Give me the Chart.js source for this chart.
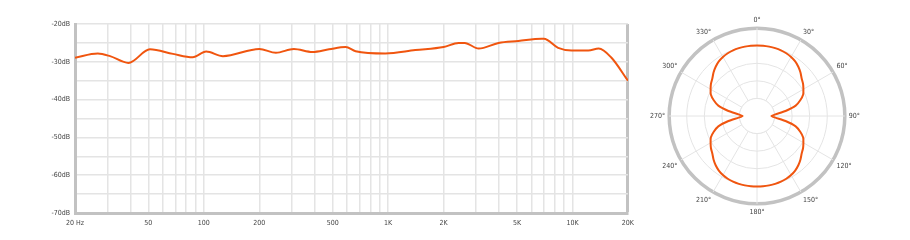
<!DOCTYPE html>
<html lang="en">
<head>
  <meta charset="UTF-8" />
  <title>Frequency response and polar pattern</title>
  <script src="https://cdn.jsdelivr.net/npm/chart.js"></script>
  <style>
    body {
      margin: 0;
      background: #ffffff;
    }
    #respBox {
      position: absolute;
      left: 0;
      top: 0;
      width: 640px;
      height: 240px;
    }
    #polarBox {
      position: absolute;
      left: 648px;
      top: 4px;
      width: 215px;
      height: 226px;
    }
  </style>
</head>
<body>
  <div id="respBox"><canvas id="respChart"></canvas></div>
  <div id="polarBox"><canvas id="polarChart"></canvas></div>

  <script>
    // frequency response (Hz / dB)
    const freqs = [20, 26.6, 31, 39, 51, 68, 87, 103, 127, 200, 246, 308, 388, 478, 588, 666, 966, 1404, 2000, 2412, 2600, 3100, 3972, 5088, 6800, 7000, 8360, 9900, 12200, 13880, 16200, 20000];
    const levels = [-28.9, -27.8, -28.5, -30.3, -26.7, -27.9, -28.8, -27.3, -28.5, -26.6, -27.6, -26.6, -27.4, -26.7, -26.1, -27.2, -27.8, -26.9, -26.1, -25.0, -25.0, -26.5, -25.0, -24.5, -23.9, -23.9, -26.3, -27.0, -27.0, -26.5, -28.8, -35.0];

    // vertical grid positions and the ones that carry a label
    const gridFreqs = [20, 30, 40, 50, 60, 70, 80, 90, 100, 200, 300, 400, 500, 600, 700, 800, 900, 1000, 2000, 3000, 4000, 5000, 6000, 7000, 8000, 9000, 10000, 20000];
    const labelFreqs = [20, 50, 100, 200, 500, 1000, 2000, 5000, 10000, 20000];
    const labelTexts = ["20 Hz", "50", "100", "200", "500", "1K", "2K", "5K", "10K", "20K"];

    // polar pattern, one value every 5 degrees (dB)
    const polarAngles = [];
    for (let a = 0; a < 360; a += 5) polarAngles.push(a);
    const polarLevels = [
      -4.9, -4.9, -4.95, -5.0, -5.1, -5.3, -5.6, -6.05, -6.7, -7.5, -8.4, -9.0, -9.75, -10.5, -11.9, -13.6, -16.75, -19.75,
      -20.9, -19.75, -16.75, -13.6, -11.9, -10.5, -9.75, -9.0, -8.4, -7.5, -6.7, -6.05, -5.6, -5.3, -5.1, -5.0, -4.95, -4.9,
      -4.9, -4.9, -4.95, -5.0, -5.1, -5.3, -5.6, -6.05, -6.7, -7.5, -8.4, -9.0, -9.75, -10.5, -11.9, -13.6, -16.75, -19.75,
      -20.9, -19.75, -16.75, -13.6, -11.9, -10.5, -9.75, -9.0, -8.4, -7.5, -6.7, -6.05, -5.6, -5.3, -5.1, -5.0, -4.95, -4.9
    ];

    const LINE = "#f0550f";
    const GRID = "#e4e4e4";
    const FRAME = "#c2c2c2";
    const TXT = "#444444";
    const FONT = "'Liberation Sans Narrow', 'DejaVu Sans Condensed', sans-serif";

    new Chart(document.getElementById("respChart"), {
      type: "line",
      data: {
        datasets: [{
          data: freqs.map((f, i) => ({ x: f, y: levels[i] })),
          borderColor: LINE,
          borderWidth: 2,
          pointRadius: 0,
          cubicInterpolationMode: "monotone",
          fill: false,
        }],
      },
      options: {
        responsive: true,
        maintainAspectRatio: false,
        animation: false,
        layout: { padding: { top: 24, right: 10, bottom: 0, left: 0 } },
        plugins: { legend: { display: false }, tooltip: { enabled: false } },
        scales: {
          x: {
            type: "logarithmic",
            min: 20,
            max: 20000,
            afterBuildTicks: (s) => { s.ticks = gridFreqs.map((v) => ({ value: v })); },
            afterFit: (s) => { s.height = 27; },
            grid: {
              drawTicks: false,
              color: (c) => (c.tick && c.tick.value === 20000 ? FRAME : GRID),
              lineWidth: (c) => (c.tick && c.tick.value === 20000 ? 3 : 1.5),
            },
            border: { color: FRAME, width: 3 },
            ticks: {
              autoSkip: false,
              maxRotation: 0,
              padding: 6,
              color: TXT,
              font: { family: FONT, size: 7 },
              callback: (v) => {
                const k = labelFreqs.indexOf(v);
                return k >= 0 ? labelTexts[k] : "";
              },
            },
          },
          y: {
            min: -70,
            max: -20,
            afterFit: (s) => { s.width = 75; },
            grid: { drawTicks: false, color: GRID, lineWidth: 1.5 },
            border: { color: FRAME, width: 3 },
            ticks: {
              stepSize: 5,
              padding: 5,
              color: TXT,
              font: { family: FONT, size: 7 },
              callback: (v) => (v % 10 === 0 ? v + "dB" : ""),
            },
          },
        },
      },
    });

    // blank the middle ring so the spokes start at the inner circle
    const innerHole = {
      id: "innerHole",
      beforeDatasetsDraw(chart) {
        const s = chart.scales.r;
        const rr = s.getDistanceFromCenterForValue(-20);
        const ctx = chart.ctx;
        ctx.save();
        ctx.beginPath();
        ctx.arc(s.xCenter, s.yCenter, rr, 0, Math.PI * 2);
        ctx.fillStyle = "#ffffff";
        ctx.fill();
        ctx.lineWidth = 1;
        ctx.strokeStyle = GRID;
        ctx.stroke();
        ctx.restore();
      },
    };

    new Chart(document.getElementById("polarChart"), {
      type: "radar",
      data: {
        labels: polarAngles.map((a) => (a % 30 === 0 ? a + "°" : "")),
        datasets: [{
          data: polarLevels,
          borderColor: LINE,
          borderWidth: 2,
          pointRadius: 0,
          fill: false,
          tension: 0.2,
        }],
      },
      options: {
        responsive: true,
        maintainAspectRatio: false,
        animation: false,
        plugins: { legend: { display: false }, tooltip: { enabled: false } },
        scales: {
          r: {
            min: -25,
            max: 0,
            ticks: { stepSize: 5, display: false },
            grid: {
              circular: true,
              color: (c) => (c.tick && c.tick.value === 0 ? FRAME : GRID),
              lineWidth: (c) => (c.tick && c.tick.value === 0 ? 3.5 : 1),
            },
            angleLines: {
              color: (c) => (c.index % 6 === 0 ? GRID : "rgba(0,0,0,0)"),
              lineWidth: 1,
            },
            pointLabels: {
              color: TXT,
              padding: 4,
              font: { family: FONT, size: 7 },
            },
          },
        },
      },
      plugins: [innerHole],
    });
  </script>
</body>
</html>
